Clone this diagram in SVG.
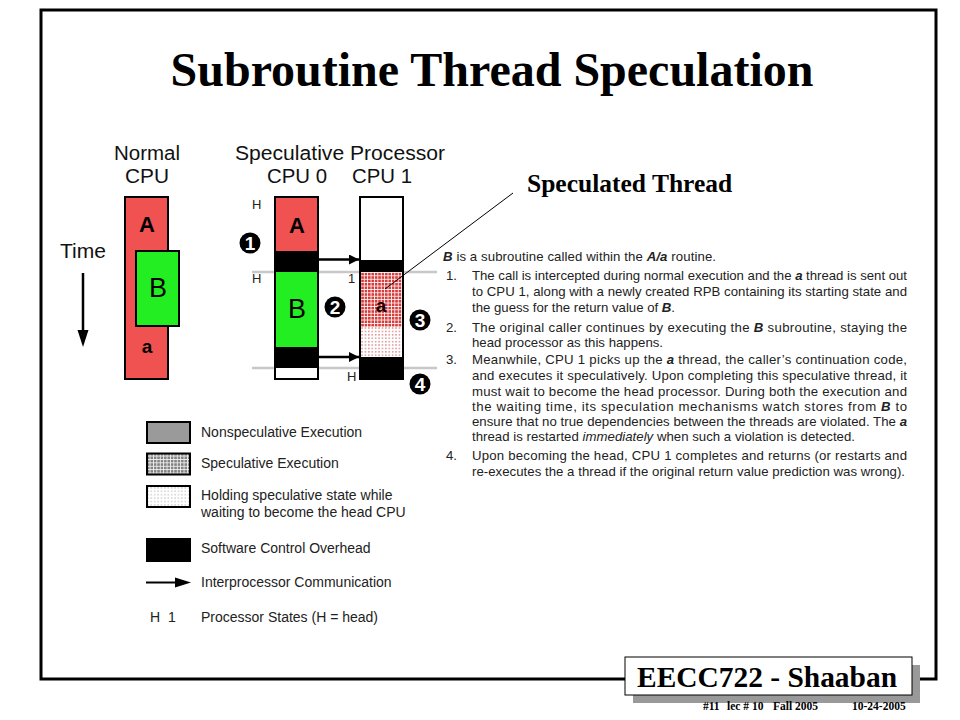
<svg xmlns="http://www.w3.org/2000/svg" width="960" height="720" viewBox="0 0 960 720">
<defs>
<style>
.sans{font-family:"Liberation Sans",Arial,sans-serif}
.serif{font-family:"Liberation Serif","Times New Roman",serif;font-weight:bold}
.hdr{font-family:"Liberation Sans",Arial,sans-serif;font-size:20px;fill:#111}
.st{font-family:"Liberation Sans",Arial,sans-serif;font-size:13px;fill:#222}
.body{font-family:"Liberation Sans",Arial,sans-serif;font-size:13.2px;fill:#222}
.leg{font-family:"Liberation Sans",Arial,sans-serif;font-size:14px;fill:#222}
.bi{font-weight:bold;font-style:italic}
.bar{stroke:#000;stroke-width:2}
.blk{fill:#000}
.gl{stroke:#c8c8c8;stroke-width:2.5}
.num{fill:#000}
.numt{font-family:"Liberation Sans",Arial,sans-serif;font-weight:bold;font-size:19px;fill:#fff;text-anchor:middle}
</style>
<pattern id="hatchRed" width="3.4" height="3.4" patternUnits="userSpaceOnUse">
<rect width="3.4" height="3.4" fill="#fff"/>
<rect x="0.8" y="0.8" width="2.6" height="2.6" fill="#d63c3c"/>
</pattern>
<pattern id="dotRed" width="3.4" height="3.4" patternUnits="userSpaceOnUse">
<rect width="3.4" height="3.4" fill="#fff"/>
<rect x="1.1" y="1.1" width="1.1" height="1.1" fill="#c03030"/>
</pattern>
<pattern id="hatchGray" width="3.4" height="3.4" patternUnits="userSpaceOnUse">
<rect width="3.4" height="3.4" fill="#f0f0f0"/>
<rect x="0.9" y="0.9" width="2.5" height="2.5" fill="#808080"/>
</pattern>
<pattern id="dotGray" width="3.4" height="3.4" patternUnits="userSpaceOnUse">
<rect width="3.4" height="3.4" fill="#fff"/>
<rect x="1.2" y="1.2" width="1" height="1" fill="#999"/>
</pattern>
<marker id="ah" viewBox="0 0 10 10" refX="10" refY="5" markerWidth="5.5" markerHeight="4" markerUnits="strokeWidth" orient="auto">
<path d="M0,0 L10,5 L0,10 z" fill="#000"/>
</marker>
</defs>

<rect width="960" height="720" fill="#fff"/>
<rect id="frame" x="41" y="10" width="895" height="669" fill="none" stroke="#000" stroke-width="3"/>

<text id="title" class="serif" x="492" y="86" font-size="48" text-anchor="middle" fill="#000">Subroutine Thread Speculation</text>

<!-- headers -->
<g id="headers">
<text class="hdr"><tspan x="114" y="160" textLength="66" lengthAdjust="spacingAndGlyphs">Normal</tspan><tspan x="125" y="182.5" textLength="44" lengthAdjust="spacingAndGlyphs">CPU</tspan></text>
<text class="hdr"><tspan x="235" y="160" textLength="210" lengthAdjust="spacingAndGlyphs">Speculative Processor</tspan><tspan x="267" y="182.5" textLength="60" lengthAdjust="spacingAndGlyphs">CPU 0</tspan><tspan x="352" y="182.5" textLength="60" lengthAdjust="spacingAndGlyphs">CPU 1</tspan></text>
</g>

<!-- time axis -->
<g id="time">
<text class="hdr" x="60" y="258" textLength="46" lengthAdjust="spacingAndGlyphs">Time</text>
<line x1="83" y1="273" x2="83" y2="332" stroke="#000" stroke-width="2.5"/>
<polygon points="77.5,330 88.5,330 83,347" fill="#000"/>
</g>

<!-- normal CPU -->
<g id="normal-cpu">
<rect class="bar" x="125" y="197" width="43" height="182" fill="#f05252"/>
<text class="sans" x="147" y="232" font-size="22" font-weight="bold" text-anchor="middle">A</text>
<rect class="bar" x="136" y="251" width="43" height="75" fill="#22ee22"/>
<text class="sans" x="158" y="297" font-size="27" text-anchor="middle">B</text>
<text class="sans" x="147" y="353" font-size="19" font-weight="bold" text-anchor="middle">a</text>
</g>

<!-- grey state lines -->
<g id="state-lines">
<line class="gl" x1="252" y1="272" x2="437" y2="272"/>
<line class="gl" x1="252" y1="368" x2="437" y2="368"/>
</g>

<!-- CPU 0 -->
<g id="cpu0">
<rect x="275" y="197" width="43" height="54" fill="#f05252"/>
<rect class="blk" x="275" y="251" width="43" height="21"/>
<rect x="275" y="272" width="43" height="75" fill="#22ee22"/>
<rect class="blk" x="275" y="347" width="43" height="21"/>
<rect x="275" y="368" width="43" height="11" fill="#fff"/>
<rect class="bar" x="275" y="197" width="43" height="182" fill="none"/>
<text class="sans" x="297" y="233" font-size="22" font-weight="bold" text-anchor="middle">A</text>
<text class="sans" x="297" y="318" font-size="27" text-anchor="middle">B</text>
</g>

<!-- CPU 1 -->
<g id="cpu1">
<rect x="360" y="197" width="43" height="63" fill="#fff"/>
<rect class="blk" x="360" y="260" width="43" height="12"/>
<rect x="360" y="272" width="43" height="55" fill="url(#hatchRed)"/>
<rect x="360" y="327" width="43" height="30" fill="url(#dotRed)"/>
<rect class="blk" x="360" y="357" width="43" height="22"/>
<rect class="bar" x="360" y="197" width="43" height="182" fill="none"/>
<text class="sans" x="381" y="312" font-size="19" font-weight="bold" text-anchor="middle" fill="#1a0000">a</text>
</g>

<!-- state labels -->
<g id="state-labels">
<text class="st" x="252" y="209">H</text>
<text class="st" x="252" y="283">H</text>
<text class="st" x="348" y="283">1</text>
<text class="st" x="347" y="381">H</text>
</g>

<!-- step markers -->
<g id="step1"><circle class="num" cx="250" cy="243" r="10.5"/><text class="numt" x="250" y="250">1</text></g>
<g id="step2"><circle class="num" cx="335" cy="307" r="10.5"/><text class="numt" x="335" y="314">2</text></g>
<g id="step3"><circle class="num" cx="420" cy="320" r="10.5"/><text class="numt" x="420" y="327">3</text></g>
<g id="step4"><circle class="num" cx="420" cy="384" r="10.5"/><text class="numt" x="420" y="391">4</text></g>

<!-- connectors -->
<g id="connectors" stroke="#000" fill="none">
<line x1="318" y1="259.5" x2="359" y2="259.5" stroke-width="2.5" marker-end="url(#ah)"/>
<line x1="318" y1="357" x2="359" y2="357" stroke-width="2.5" marker-end="url(#ah)"/>
<line x1="513" y1="193" x2="385" y2="289" stroke-width="1"/>
</g>

<text id="spec-thread" class="serif" x="527" y="192" font-size="25.5" fill="#000">Speculated Thread</text>

<!-- explanation text -->
<g id="explanation" class="body">
<text x="443" y="261" textLength="273" lengthAdjust="spacing"><tspan class="bi">B</tspan> is a subroutine called within the <tspan class="bi">A/a</tspan> routine.</text>
<text x="446" y="280">1.</text>
<text x="472" y="280" textLength="435" lengthAdjust="spacing">The call is intercepted during normal execution and the <tspan class="bi">a</tspan> thread is sent out</text>
<text x="472" y="295.5" textLength="435" lengthAdjust="spacing">to CPU 1, along with a newly created RPB containing its starting state and</text>
<text x="472" y="311.5" textLength="203" lengthAdjust="spacing">the guess for the return value of <tspan class="bi">B</tspan>.</text>
<text x="446" y="331.5">2.</text>
<text x="472" y="331.5" textLength="435" lengthAdjust="spacing">The original caller continues by executing the <tspan class="bi">B</tspan> subroutine, staying the</text>
<text x="472" y="346.5" textLength="191" lengthAdjust="spacing">head processor as this happens.</text>
<text x="446" y="364">3.</text>
<text x="472" y="364" textLength="435" lengthAdjust="spacing">Meanwhile, CPU 1 picks up the <tspan class="bi">a</tspan> thread, the caller’s continuation code,</text>
<text x="472" y="380" textLength="435" lengthAdjust="spacing">and executes it speculatively. Upon completing this speculative thread, it</text>
<text x="472" y="395.5" textLength="435" lengthAdjust="spacing">must wait to become the head processor. During both the execution and</text>
<text x="472" y="410.5" textLength="435" lengthAdjust="spacing">the waiting time, its speculation mechanisms watch stores from <tspan class="bi">B</tspan> to</text>
<text x="472" y="426" textLength="435" lengthAdjust="spacing">ensure that no true dependencies between the threads are violated. The <tspan class="bi">a</tspan></text>
<text x="472" y="441" textLength="383" lengthAdjust="spacing">thread is restarted <tspan font-style="italic">immediately</tspan> when such a violation is detected.</text>
<text x="446" y="460">4.</text>
<text x="472" y="460" textLength="435" lengthAdjust="spacing">Upon becoming the head, CPU 1 completes and returns (or restarts and</text>
<text x="472" y="475.5" textLength="433" lengthAdjust="spacing">re-executes the a thread if the original return value prediction was wrong).</text>
</g>

<!-- legend -->
<g id="legend-nonspec">
<rect x="147" y="422" width="43" height="21" fill="#9a9a9a" stroke="#000" stroke-width="2"/>
<text class="leg" x="201" y="437">Nonspeculative Execution</text>
</g>
<g id="legend-spec">
<rect x="147" y="453.5" width="43" height="21" fill="url(#hatchGray)" stroke="#000" stroke-width="2"/>
<text class="leg" x="201" y="468">Speculative Execution</text>
</g>
<g id="legend-hold">
<rect x="147" y="486" width="43" height="21" fill="url(#dotGray)" stroke="#000" stroke-width="2"/>
<text class="leg" x="201" y="500">Holding speculative state while</text>
<text class="leg" x="201" y="517">waiting to become the head CPU</text>
</g>
<g id="legend-overhead">
<rect x="146" y="538" width="45" height="24" fill="#000"/>
<text class="leg" x="201" y="553">Software Control Overhead</text>
</g>
<g id="legend-comm">
<line x1="146" y1="582.5" x2="177" y2="582.5" stroke="#000" stroke-width="2"/>
<polygon points="175,577.5 191,582.5 175,587.5" fill="#000"/>
<text class="leg" x="201" y="587">Interprocessor Communication</text>
</g>
<g id="legend-states">
<text class="leg" x="150" y="622">H</text>
<text class="leg" x="168" y="622">1</text>
<text class="leg" x="201" y="622">Processor States (H = head)</text>
</g>

<!-- footer -->
<g id="footer">
<rect x="633" y="665" width="287" height="38" fill="#999"/>
<rect x="625" y="657" width="287" height="38" fill="#fff" stroke="#000" stroke-width="1"/>
<text class="serif" x="767" y="687" font-size="28.5" text-anchor="middle" fill="#000" textLength="260" lengthAdjust="spacingAndGlyphs">EECC722 - Shaaban</text>
<text class="serif" x="703" y="710" font-size="11.5" fill="#000">#11</text>
<text class="serif" x="727" y="710" font-size="11.5" fill="#000">lec # 10</text>
<text class="serif" x="773" y="710" font-size="11.5" fill="#000">Fall 2005</text>
<text class="serif" x="852" y="710" font-size="11.5" fill="#000">10-24-2005</text>
</g>
</svg>
